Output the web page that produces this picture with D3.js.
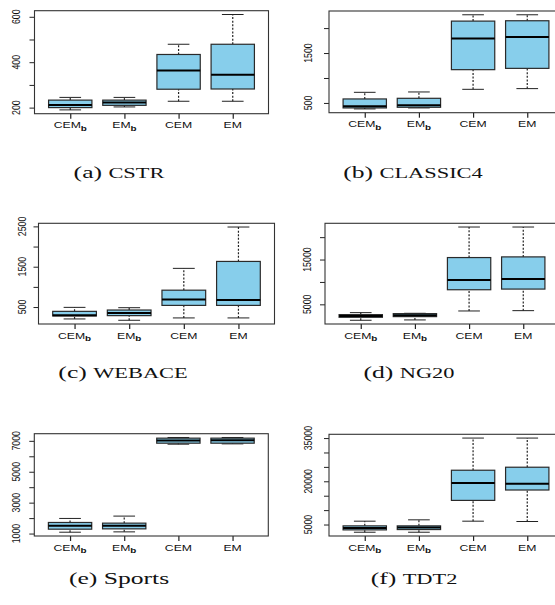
<!DOCTYPE html>
<html lang="en">
<head>
<meta charset="UTF-8">
<title>Boxplots of six datasets</title>
<script src="https://d3js.org/d3.v7.min.js"></script>
<style>
    body { margin: 0; background: #fff; }
    svg { display: block; }
    .tick_label { font-family: "Liberation Sans", Arial, sans-serif; font-size: 8.8px; fill: #111; }
    .caption { font-family: "Liberation Serif", "DejaVu Serif", serif; fill: #111; }
</style>
</head>
<body>
<svg width="555" height="605"></svg>

<script>
    // method names on the x axis (subscript bold b for the first two)
    const methods = ["CEM", "EM", "CEM", "EM"];
    const methodSub = ["b", "b", "", ""];

    // each box: [lower whisker, Q1, median, Q3, upper whisker] for CEMb, EMb, CEM, EM
    const cstr     = [[190, 200, 212, 233, 245], [203, 210, 222, 233, 245], [228, 281, 363, 434, 479], [228, 282, 345, 479, 610]];
    const classic4 = [[380, 400, 433, 580, 713], [400, 413, 453, 593, 720], [773, 1167, 1793, 2140, 2267], [787, 1193, 1820, 2147, 2267]];
    const webace   = [[205, 279, 295, 393, 492], [172, 287, 352, 426, 484], [230, 541, 689, 918, 1459], [230, 541, 672, 1631, 2484]];
    const ng20     = [[1444, 2111, 2407, 2704, 3148], [1519, 2259, 2556, 2926, 3000], [3519, 8259, 10407, 15444, 22259], [3593, 8407, 10630, 15593, 22259]];
    const sports   = [[1087, 1283, 1500, 1717, 1978], [1109, 1304, 1500, 1674, 2130], [6783, 6848, 7022, 7174, 7217], [6804, 6848, 7043, 7174, 7217]];
    const tdt2     = [[2326, 3140, 3837, 4535, 6163], [2326, 3256, 3953, 4535, 6628], [6163, 13372, 19421, 23840, 35000], [6047, 16977, 19186, 24884, 35000]];
    const boxData = [cstr, classic4, webace, ng20, sports, tdt2];

    // y ticks and which of them carry a label
    const yTicks = [
        [200, 300, 400, 500, 600],
        [500, 1000, 1500, 2000],
        [500, 1000, 1500, 2000, 2500],
        [5000, 10000, 15000, 20000],
        [1000, 2000, 3000, 4000, 5000, 6000, 7000],
        [5000, 10000, 15000, 20000, 25000, 30000, 35000]
    ];
    const yLabels = [
        [200, 400, 600],
        [500, 1500],
        [500, 1500, 2500],
        [5000, 15000],
        [1000, 3000, 5000, 7000],
        [5000, 20000, 35000]
    ];

    const captionTag = ["(a)", "(b)", "(c)", "(d)", "(e)", "(f)"];
    const captionName = ["CSTR", "CLASSIC4", "WEBACE", "NG20", "Sports", "TDT2"];
    const smallCaps = [true, true, true, true, false, true];

    // where each panel sits on the page
    const panels = [
        {left: 34.5, top: 10.7,  width: 234, height: 103,   labOff: 15, capX: 119, capY: 178},
        {left: 329,  top: 11,    width: 234, height: 101.7, labOff: 17, capX: 413, capY: 178},
        {left: 38.5, top: 223.3, width: 236, height: 100.7, labOff: 13, capX: 123, capY: 378},
        {left: 325,  top: 223.3, width: 234, height: 100.7, labOff: 14, capX: 409, capY: 378},
        {left: 34.3, top: 433.7, width: 234, height: 102.3, labOff: 14, capX: 119, capY: 584},
        {left: 329,  top: 434.3, width: 234, height: 101.7, labOff: 17, capX: 414, capY: 584}
    ];

    const svg = d3.select("svg");
    const stretch = 1.3; // the figure looks widened, text included

    panels.forEach(function (p, i) {
        const data = boxData[i];
        const lo = d3.min(data, d => d[0]);
        const hi = d3.max(data, d => d[4]);
        const pad = (hi - lo) * 0.04;

        const x = d3.scaleLinear().domain([0.34, 4.66]).range([p.left, p.left + p.width]);
        const y = d3.scaleLinear().domain([lo - pad, hi + pad]).range([p.top + p.height, p.top]);
        const bottom = p.top + p.height;

        const g = svg.append("g").attr("class", "panel");

        // y axis ticks
        const yAxis = g.append("g")
            .attr("transform", "translate(" + p.left + ",0)")
            .call(d3.axisLeft(y).tickValues(yTicks[i]).tickSize(5).tickFormat(""));
        yAxis.select(".domain").remove();
        yAxis.selectAll("line").attr("stroke", "#222").attr("stroke-width", 1);

        g.selectAll(".ylab")
            .data(yLabels[i])
            .enter()
            .append("text")
            .attr("class", "tick_label")
            .attr("text-anchor", "middle")
            .attr("transform", d => "translate(" + (p.left - p.labOff) + "," + y(d) + ") scale(" + stretch + ",1) rotate(-90)")
            .text(d => d);

        // x axis ticks
        const xAxis = g.append("g")
            .attr("transform", "translate(0," + bottom + ")")
            .call(d3.axisBottom(x).tickValues([1, 2, 3, 4]).tickSize(5).tickFormat(""));
        xAxis.select(".domain").remove();
        xAxis.selectAll("line").attr("stroke", "#222").attr("stroke-width", 1.2);

        const xl = g.selectAll(".xlab")
            .data(methods)
            .enter()
            .append("text")
            .attr("class", "tick_label")
            .attr("text-anchor", "middle")
            .style("font-size", "9.4px")
            .attr("transform", (d, k) => "translate(" + x(k + 1) + "," + (bottom + 14.5) + ") scale(" + stretch + ",1)");
        xl.append("tspan").text(d => d);
        xl.append("tspan")
            .attr("dy", 2.5)
            .style("font-weight", "bold")
            .style("font-size", "7.6px")
            .text((d, k) => methodSub[k]);

        // boxes
        const bw = 0.4;  // half box width in x units
        const sw = 0.2;  // half staple width
        const boxes = g.selectAll(".box")
            .data(data)
            .enter()
            .append("g")
            .attr("class", "box");

        boxes.append("line")
            .attr("x1", (d, k) => x(k + 1)).attr("x2", (d, k) => x(k + 1))
            .attr("y1", d => y(d[0])).attr("y2", d => y(d[1]))
            .attr("stroke", "#222").attr("stroke-width", 1.2).attr("stroke-dasharray", "2,1.6");
        boxes.append("line")
            .attr("x1", (d, k) => x(k + 1)).attr("x2", (d, k) => x(k + 1))
            .attr("y1", d => y(d[3])).attr("y2", d => y(d[4]))
            .attr("stroke", "#222").attr("stroke-width", 1.2).attr("stroke-dasharray", "2,1.6");
        boxes.append("line")
            .attr("x1", (d, k) => x(k + 1 - sw)).attr("x2", (d, k) => x(k + 1 + sw))
            .attr("y1", d => y(d[0])).attr("y2", d => y(d[0]))
            .attr("stroke", "#222").attr("stroke-width", 1);
        boxes.append("line")
            .attr("x1", (d, k) => x(k + 1 - sw)).attr("x2", (d, k) => x(k + 1 + sw))
            .attr("y1", d => y(d[4])).attr("y2", d => y(d[4]))
            .attr("stroke", "#222").attr("stroke-width", 1);
        boxes.append("rect")
            .attr("x", (d, k) => x(k + 1 - bw))
            .attr("width", (d, k) => x(k + 1 + bw) - x(k + 1 - bw))
            .attr("y", d => y(d[3]))
            .attr("height", d => y(d[1]) - y(d[3]))
            .attr("fill", "#87ceeb")
            .attr("stroke", "#2a2a2a")
            .attr("stroke-width", 1.2);
        boxes.append("line")
            .attr("x1", (d, k) => x(k + 1 - bw)).attr("x2", (d, k) => x(k + 1 + bw))
            .attr("y1", d => y(d[2])).attr("y2", d => y(d[2]))
            .attr("stroke", "#000").attr("stroke-width", 2);

        // frame
        g.append("rect")
            .attr("x", p.left).attr("y", p.top)
            .attr("width", p.width).attr("height", p.height)
            .attr("fill", "none")
            .attr("stroke", "#333")
            .attr("stroke-width", 1.1);

        // caption
        const cap = svg.append("text")
            .attr("class", "caption")
            .attr("text-anchor", "middle")
            .attr("transform", "translate(" + p.capX + "," + p.capY + ") scale(1.6,1)");
        cap.append("tspan").style("font-size", "16px").text(captionTag[i] + " ");
        cap.append("tspan").style("font-size", smallCaps[i] ? "14px" : "16px").text(captionName[i]);
    });
</script>
</body>
</html>
